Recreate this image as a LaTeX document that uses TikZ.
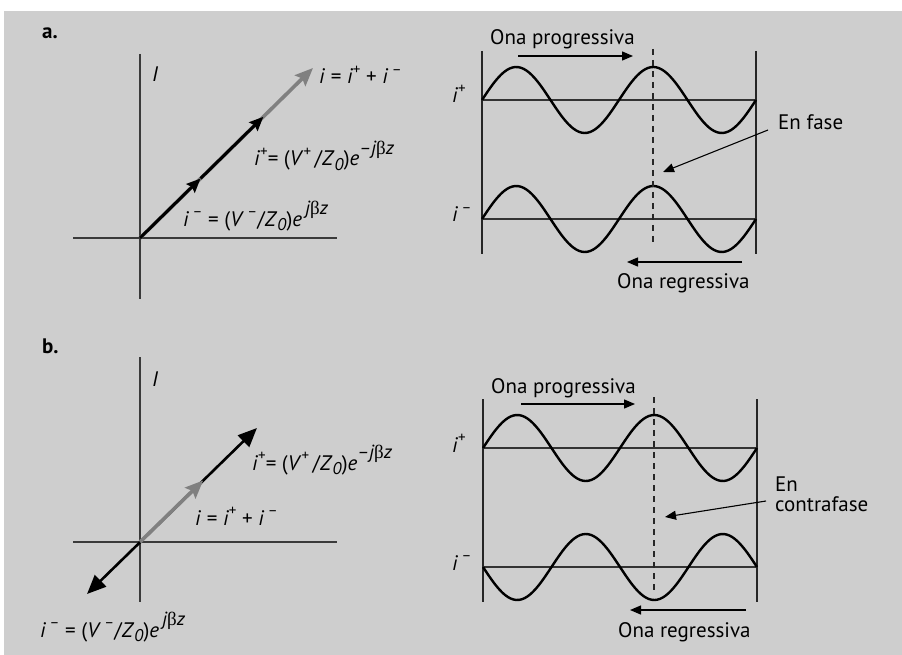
\documentclass[tikz,border=0pt]{standalone}
\usepackage{fontspec}
\setmainfont{PT Sans}
\newfontfamily\grkfont{Liberation Serif}
\usepackage{tikz}
\usetikzlibrary{arrows.meta,calc}
\definecolor{panelgray}{RGB}{206,206,206}
\definecolor{axisgray}{RGB}{58,58,58}
\definecolor{sumgray}{RGB}{128,128,128}
\newcommand{\ivar}[1]{\textit{#1}}
\newcommand{\upsc}[1]{\raisebox{0.45em}{\fontsize{15}{15}\selectfont #1}}
\newcommand{\expo}[1]{\raisebox{0.55em}{\fontsize{19}{19}\selectfont\itshape #1}}
\newcommand{\bet}{{\grkfont\upshape β}}
\newcommand{\isum}{\ivar{i} = \ivar{i}\upsc{+} + \ivar{i}\,\upsc{–}}
\newcommand{\iplus}{\ivar{i}\upsc{+}= (\ivar{V}\upsc{+}\,/\ivar{Z}\textsubscript{\fontsize{17}{17}\selectfont\itshape 0})\ivar{e}\expo{–j\bet z}}
\newcommand{\iminus}{\ivar{i}\,\upsc{–} = (\ivar{V}\,\upsc{–}/\ivar{Z}\textsubscript{\fontsize{17}{17}\selectfont\itshape 0})\ivar{e}\expo{\,j\bet z}}

\begin{document}
\begin{tikzpicture}[x=1pt,y=-1pt,
  axis/.style={axisgray, line width=1.4pt},
  frame/.style={black!85, line width=1.5pt},
  base/.style={black!80, line width=1.3pt},
  wave/.style={black, line width=2.4pt, line join=round},
  guide/.style={black!85, line width=1.2pt, dash pattern=on 6pt off 5pt},
  note/.style={black, line width=1.3pt, -{Triangle[length=11pt,width=9pt]}},
  lbl/.style={font=\fontsize{21}{21}\selectfont, inner sep=0pt},
  tag/.style={font=\fontsize{21}{21}\selectfont\bfseries, inner sep=0pt},
  sumarr/.style={sumgray, line width=3.6pt, -{Stealth[length=18pt,width=15pt,inset=3pt]}},
  comparr/.style={black, line width=3pt, -{Stealth[length=14pt,width=12pt,inset=2pt]}},
  dblarr/.style={black, line width=2.6pt, {Triangle[length=19pt,width=16pt]}-{Triangle[length=19pt,width=16pt]}}]
\fill[white] (0,0) rectangle (902,655);
\fill[panelgray] (4,11) rectangle (902,655);
\useasboundingbox (0,0) rectangle (902,655);

% a. phasors in phase
\node[tag, anchor=base west] (taga) at (42,39) {a.};
\coordinate (oa) at (140,238);
\draw[axis] (140,54) -- (140,299);
\draw[axis] (73,238) -- (337,238);
\node[lbl, anchor=base west] (Ia) at (152,82) {\ivar{I}};
\coordinate (suma) at (313,68);
\coordinate (ma1) at ($(oa)!0.35!(suma)$);
\coordinate (ma2) at ($(oa)!0.713!(suma)$);
\draw[sumarr] (oa) -- (suma);
\draw[comparr] (oa) -- (ma1);
\draw[comparr] (ma1) -- (ma2);
\node[lbl, anchor=base west] (sumlbla) at (319,84) {\isum};
\node[lbl, anchor=base west] (pluslbla) at (254,166) {\iplus};
\node[lbl, anchor=base west] (minuslbla) at (183,226) {\iminus};

% b. phasors in opposition
\node[tag, anchor=base west] (tagb) at (42,353) {b.};
\coordinate (ob) at (140,542);
\draw[axis] (140,357) -- (140,602);
\draw[axis] (73,542) -- (337,542);
\node[lbl, anchor=base west] (Ib) at (152,386) {\ivar{I}};
\coordinate (plusb) at (257,428);
\coordinate (minusb) at (87,594);
\coordinate (sumb) at ($(ob)!0.54!(plusb)$);
\draw[dblarr] (minusb) -- (plusb);
\draw[sumarr] (ob) -- (sumb);
\node[lbl, anchor=base west] (pluslblb) at (252,470) {\iplus};
\node[lbl, anchor=base west] (sumlblb) at (195,525) {\isum};
\node[lbl, anchor=base west] (minuslblb) at (40,637) {\iminus};

% waves
\foreach \xo/\yt/\yb in {482/51/254, 483/399/602} {
  \draw[frame] (\xo,\yt) -- (\xo,\yb);
  \draw[frame] (\xo+274,\yt) -- (\xo+274,\yb);
}
\foreach \xo/\yl/\sg in {482/100/1, 482/219/1, 483/448/1, 483/567/-1} {
  \draw[base] (\xo,\yl) -- (\xo+274,\yl);
  \draw[wave] plot[domain=0:274, samples=100, smooth] ({\xo+\x},{\yl-\sg*33*sin(\x/137*360)});
}
\draw[guide] (653,49) -- (653,244);
\draw[guide] (654,397) -- (654,592);

\node[lbl, anchor=base west] (ipa) at (452,103) {\ivar{i}\upsc{+}};
\node[lbl, anchor=base west] (ima) at (452,222) {\ivar{i}\,\upsc{–}};
\node[lbl, anchor=base west] (ipb) at (452,452) {\ivar{i}\upsc{+}};
\node[lbl, anchor=base west] (imb) at (452,570) {\ivar{i}\,\upsc{–}};

\node[lbl, anchor=base west] (proga) at (490,45) {Ona progressiva};
\node[lbl, anchor=base west] (rega) at (617,288) {Ona regressiva};
\node[lbl, anchor=base west] (fase) at (778,130) {En fase};
\draw[note] (518,56) -- (633,56);
\draw[note] (742,262) -- (627,262);
\draw[note, line width=1.1pt] (768,130) coordinate (fasest) -- (663,172);

\node[lbl, anchor=base west] (progb) at (491,393) {Ona progressiva};
\node[lbl, anchor=base west] (regb) at (618,637) {Ona regressiva};
\node[lbl, anchor=north west, align=left, font=\fontsize{21}{19.5}\selectfont] (contra) at (775,477) {En\\contrafase};
\draw[note] (521,404) -- (635,404);
\draw[note] (746,610) -- (630,610);
\draw[note, line width=1.1pt] (766,501) coordinate (contrast) -- (665,517);
\end{tikzpicture}
\end{document}
